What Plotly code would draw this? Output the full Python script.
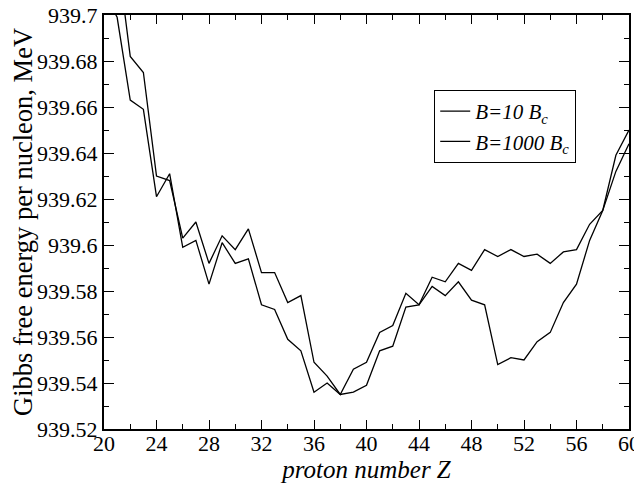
import plotly.graph_objects as go

# proton number Z
z = list(range(20, 61))

# Gibbs free energy per nucleon, MeV
g_b10 = [939.710, 939.699, 939.663, 939.659, 939.621, 939.631, 939.599, 939.602,
         939.583, 939.601, 939.592, 939.594, 939.574, 939.572, 939.559, 939.554,
         939.536, 939.540, 939.535, 939.536, 939.539, 939.554, 939.556, 939.573,
         939.574, 939.582, 939.578, 939.584, 939.576, 939.574, 939.548, 939.551,
         939.550, 939.558, 939.562, 939.575, 939.583, 939.602, 939.615, 939.639,
         939.650]
g_b1000 = [939.760, 939.727, 939.682, 939.675, 939.630, 939.628, 939.603, 939.610,
           939.592, 939.604, 939.598, 939.607, 939.588, 939.588, 939.575, 939.578,
           939.549, 939.543, 939.535, 939.546, 939.549, 939.562, 939.565, 939.579,
           939.574, 939.586, 939.584, 939.592, 939.589, 939.598, 939.595, 939.598,
           939.595, 939.596, 939.592, 939.597, 939.598, 939.609, 939.615, 939.632,
           939.644]

serif = "Liberation Serif"

fig = go.Figure()
fig.add_trace(go.Scatter(x=z, y=g_b10, mode="lines", name="<i>B=10 B<sub>c</sub></i>",
                         line=dict(color="black", width=1.3)))
fig.add_trace(go.Scatter(x=z, y=g_b1000, mode="lines", name="<i>B=1000 B<sub>c</sub></i>",
                         line=dict(color="black", width=1.3)))

axis_common = dict(showline=True, linecolor="black", linewidth=2, mirror="ticks",
                   ticks="inside", tickcolor="black", showgrid=False, zeroline=False,
                   automargin=False, ticklabeloverflow="allow",
                   tickfont=dict(family=serif, size=22, color="black"))

# page body has an 8px margin, so the figure is sized to fit inside the window
fig.update_layout(
    width=634, height=477,
    margin=dict(l=96, r=13, t=7, b=56),
    plot_bgcolor="white", paper_bgcolor="white",
    font=dict(family=serif, color="black"),
    xaxis=dict(range=[20, 60], dtick=4, ticklen=9, tickwidth=1.2,
               ticklabelstandoff=-6,
               minor=dict(dtick=2, ticks="inside", ticklen=5, tickcolor="black"),
               title=dict(text="<i>proton number Z</i>", font=dict(family=serif, size=25),
                          standoff=0),
               **axis_common),
    yaxis=dict(range=[939.52, 939.7], dtick=0.02, ticklen=10, tickwidth=1.2,
               minor=dict(dtick=0.01, ticks="inside", ticklen=5, tickcolor="black"),
               title=dict(text="Gibbs free energy per nucleon, MeV",
                          font=dict(family=serif, size=26.5), standoff=1),
               **axis_common),
    legend=dict(x=0.629, y=0.819, xanchor="left", yanchor="top",
                bordercolor="black", borderwidth=1, bgcolor="white",
                font=dict(family=serif, size=21), tracegroupgap=0),
    showlegend=True,
)

fig.write_html("out.html")
